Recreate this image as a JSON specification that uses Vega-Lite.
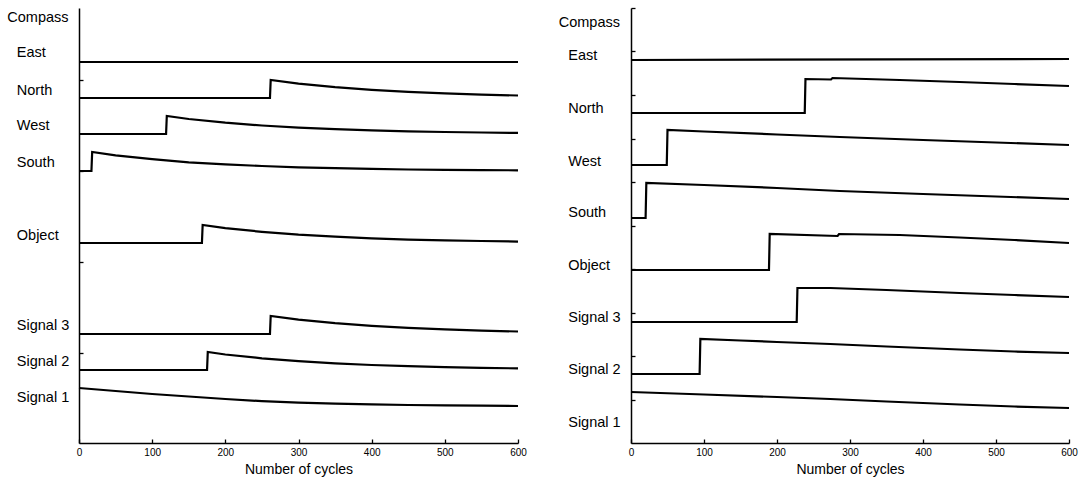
{
  "$schema": "https://vega.github.io/schema/vega-lite/v6.json",
  "background": "white",
  "padding": {"left": 7, "top": 7, "right": 5, "bottom": 4},
  "spacing": 31,
  "config": {
    "view": {"stroke": null},
    "font": "Liberation Sans",
    "axis": {
      "grid": false,
      "domainColor": "black",
      "domainWidth": 1.5,
      "tickColor": "black",
      "tickWidth": 1.3,
      "tickSize": -4,
      "labelColor": "black",
      "labelFont": "Liberation Sans",
      "labelFontSize": 10,
      "labelFlush": false,
      "labelPadding": 8,
      "titleFont": "Liberation Sans",
      "titleFontSize": 14,
      "titleFontWeight": "normal",
      "titleColor": "black",
      "titlePadding": 5
    }
  },
  "datasets": {
    "L": [
      {"s": "East", "c": 0, "v": 381}, {"s": "East", "c": 600, "v": 381},
      {"s": "North", "c": 0, "v": 345}, {"s": "North", "c": 261, "v": 345}, {"s": "North", "c": 262, "v": 363}, {"s": "North", "c": 300, "v": 359.4}, {"s": "North", "c": 350, "v": 355.8}, {"s": "North", "c": 400, "v": 353.1}, {"s": "North", "c": 450, "v": 351.1}, {"s": "North", "c": 500, "v": 349.7}, {"s": "North", "c": 550, "v": 348.4}, {"s": "North", "c": 600, "v": 347.5},
      {"s": "West", "c": 0, "v": 309}, {"s": "West", "c": 119, "v": 309}, {"s": "West", "c": 120, "v": 327}, {"s": "West", "c": 150, "v": 324}, {"s": "West", "c": 200, "v": 320.3}, {"s": "West", "c": 250, "v": 317.5}, {"s": "West", "c": 300, "v": 315.3}, {"s": "West", "c": 350, "v": 313.9}, {"s": "West", "c": 400, "v": 312.6}, {"s": "West", "c": 450, "v": 311.7}, {"s": "West", "c": 500, "v": 311}, {"s": "West", "c": 550, "v": 310.5}, {"s": "West", "c": 600, "v": 310.1},
      {"s": "South", "c": 0, "v": 272}, {"s": "South", "c": 17, "v": 272}, {"s": "South", "c": 18, "v": 291}, {"s": "South", "c": 50, "v": 287.6}, {"s": "South", "c": 100, "v": 283.8}, {"s": "South", "c": 150, "v": 280.7}, {"s": "South", "c": 200, "v": 278.6}, {"s": "South", "c": 250, "v": 277}, {"s": "South", "c": 300, "v": 275.6}, {"s": "South", "c": 350, "v": 274.8}, {"s": "South", "c": 400, "v": 274.1}, {"s": "South", "c": 450, "v": 273.5}, {"s": "South", "c": 500, "v": 273.1}, {"s": "South", "c": 550, "v": 272.9}, {"s": "South", "c": 600, "v": 272.7},
      {"s": "Object", "c": 0, "v": 200}, {"s": "Object", "c": 168, "v": 200}, {"s": "Object", "c": 169, "v": 218}, {"s": "Object", "c": 200, "v": 214.8}, {"s": "Object", "c": 250, "v": 211.2}, {"s": "Object", "c": 300, "v": 208.3}, {"s": "Object", "c": 350, "v": 206.3}, {"s": "Object", "c": 400, "v": 204.7}, {"s": "Object", "c": 450, "v": 203.4}, {"s": "Object", "c": 500, "v": 202.7}, {"s": "Object", "c": 550, "v": 202}, {"s": "Object", "c": 600, "v": 201.4},
      {"s": "Signal 3", "c": 0, "v": 109}, {"s": "Signal 3", "c": 261, "v": 109}, {"s": "Signal 3", "c": 262, "v": 127}, {"s": "Signal 3", "c": 300, "v": 123.4}, {"s": "Signal 3", "c": 350, "v": 119.8}, {"s": "Signal 3", "c": 400, "v": 117.1}, {"s": "Signal 3", "c": 450, "v": 115.1}, {"s": "Signal 3", "c": 500, "v": 113.7}, {"s": "Signal 3", "c": 550, "v": 112.4}, {"s": "Signal 3", "c": 600, "v": 111.5},
      {"s": "Signal 2", "c": 0, "v": 73}, {"s": "Signal 2", "c": 175, "v": 73}, {"s": "Signal 2", "c": 176, "v": 91}, {"s": "Signal 2", "c": 200, "v": 88.5}, {"s": "Signal 2", "c": 250, "v": 84.7}, {"s": "Signal 2", "c": 300, "v": 81.8}, {"s": "Signal 2", "c": 350, "v": 79.7}, {"s": "Signal 2", "c": 400, "v": 78}, {"s": "Signal 2", "c": 450, "v": 76.8}, {"s": "Signal 2", "c": 500, "v": 75.9}, {"s": "Signal 2", "c": 550, "v": 75.2}, {"s": "Signal 2", "c": 600, "v": 74.6},
      {"s": "Signal 1", "c": 0, "v": 55}, {"s": "Signal 1", "c": 50, "v": 52}, {"s": "Signal 1", "c": 100, "v": 49}, {"s": "Signal 1", "c": 150, "v": 46.5}, {"s": "Signal 1", "c": 200, "v": 44}, {"s": "Signal 1", "c": 250, "v": 41.8}, {"s": "Signal 1", "c": 300, "v": 40.3}, {"s": "Signal 1", "c": 350, "v": 39.3}, {"s": "Signal 1", "c": 400, "v": 38.6}, {"s": "Signal 1", "c": 450, "v": 38}, {"s": "Signal 1", "c": 500, "v": 37.6}, {"s": "Signal 1", "c": 550, "v": 37.3}, {"s": "Signal 1", "c": 600, "v": 37}
    ],
    "R": [
      {"s": "East", "c": 0, "v": 383}, {"s": "East", "c": 600, "v": 384},
      {"s": "North", "c": 0, "v": 330}, {"s": "North", "c": 238, "v": 330}, {"s": "North", "c": 239, "v": 364}, {"s": "North", "c": 274, "v": 363.5}, {"s": "North", "c": 276, "v": 365}, {"s": "North", "c": 368, "v": 363}, {"s": "North", "c": 450, "v": 361}, {"s": "North", "c": 525, "v": 359}, {"s": "North", "c": 600, "v": 357},
      {"s": "West", "c": 0, "v": 278}, {"s": "West", "c": 49, "v": 278}, {"s": "West", "c": 50, "v": 313}, {"s": "West", "c": 100, "v": 311.5}, {"s": "West", "c": 200, "v": 308.5}, {"s": "West", "c": 286, "v": 306}, {"s": "West", "c": 400, "v": 303}, {"s": "West", "c": 500, "v": 300.5}, {"s": "West", "c": 600, "v": 298},
      {"s": "South", "c": 0, "v": 225}, {"s": "South", "c": 20, "v": 225}, {"s": "South", "c": 21, "v": 260}, {"s": "South", "c": 100, "v": 258}, {"s": "South", "c": 200, "v": 255}, {"s": "South", "c": 286, "v": 252}, {"s": "South", "c": 400, "v": 249}, {"s": "South", "c": 500, "v": 246.5}, {"s": "South", "c": 600, "v": 244},
      {"s": "Object", "c": 0, "v": 173}, {"s": "Object", "c": 189, "v": 173}, {"s": "Object", "c": 190, "v": 209}, {"s": "Object", "c": 283, "v": 207}, {"s": "Object", "c": 285, "v": 209}, {"s": "Object", "c": 368, "v": 208}, {"s": "Object", "c": 450, "v": 205.5}, {"s": "Object", "c": 525, "v": 203}, {"s": "Object", "c": 600, "v": 200},
      {"s": "Signal 3", "c": 0, "v": 121}, {"s": "Signal 3", "c": 227, "v": 121}, {"s": "Signal 3", "c": 228, "v": 155}, {"s": "Signal 3", "c": 273, "v": 155}, {"s": "Signal 3", "c": 350, "v": 153}, {"s": "Signal 3", "c": 450, "v": 150}, {"s": "Signal 3", "c": 525, "v": 148}, {"s": "Signal 3", "c": 600, "v": 146},
      {"s": "Signal 2", "c": 0, "v": 69}, {"s": "Signal 2", "c": 94, "v": 69}, {"s": "Signal 2", "c": 95, "v": 104}, {"s": "Signal 2", "c": 150, "v": 102.5}, {"s": "Signal 2", "c": 200, "v": 101}, {"s": "Signal 2", "c": 273, "v": 99}, {"s": "Signal 2", "c": 350, "v": 96.5}, {"s": "Signal 2", "c": 450, "v": 93.5}, {"s": "Signal 2", "c": 525, "v": 91.5}, {"s": "Signal 2", "c": 600, "v": 90},
      {"s": "Signal 1", "c": 0, "v": 51}, {"s": "Signal 1", "c": 100, "v": 48.5}, {"s": "Signal 1", "c": 200, "v": 46}, {"s": "Signal 1", "c": 273, "v": 44}, {"s": "Signal 1", "c": 350, "v": 41.5}, {"s": "Signal 1", "c": 450, "v": 38.5}, {"s": "Signal 1", "c": 525, "v": 36.5}, {"s": "Signal 1", "c": 600, "v": 35}
    ],
    "LL": [
      {"t": "Compass", "v": 425}, {"t": "East", "v": 390}, {"t": "North", "v": 352}, {"t": "West", "v": 317}, {"t": "South", "v": 280}, {"t": "Object", "v": 207}, {"t": "Signal 3", "v": 117}, {"t": "Signal 2", "v": 81}, {"t": "Signal 1", "v": 45}
    ],
    "RL": [
      {"t": "Compass", "v": 420}, {"t": "East", "v": 387}, {"t": "North", "v": 334}, {"t": "West", "v": 281}, {"t": "South", "v": 230}, {"t": "Object", "v": 177}, {"t": "Signal 3", "v": 125}, {"t": "Signal 2", "v": 73}, {"t": "Signal 1", "v": 20}
    ]
  },
  "hconcat": [
    {
      "width": 439,
      "height": 435,
      "layer": [
        {
          "data": {"name": "L"},
          "mark": {"type": "line", "color": "black", "strokeWidth": 2.2},
          "encoding": {
            "x": {"field": "c", "type": "quantitative", "scale": {"domain": [0, 600], "nice": false}, "axis": {"values": [0, 100, 200, 300, 400, 500, 600], "title": "Number of cycles"}},
            "y": {"field": "v", "type": "quantitative", "scale": {"domain": [0, 435], "nice": false}, "axis": {"values": [90, 181, 272, 363], "labels": false, "title": null}},
            "detail": {"field": "s"}
          }
        },
        {
          "data": {"name": "LL"},
          "transform": [{"filter": "datum.t != 'Compass'"}],
          "mark": {"type": "text", "align": "left", "baseline": "middle", "fontSize": 14.5, "font": "Liberation Sans", "color": "black"},
          "encoding": {
            "x": {"datum": -85, "type": "quantitative", "scale": {"domain": [0, 600], "nice": false}, "axis": {"values": [0, 100, 200, 300, 400, 500, 600], "title": "Number of cycles"}},
            "y": {"field": "v", "type": "quantitative", "scale": {"domain": [0, 435], "nice": false}, "axis": {"values": [90, 181, 272, 363], "labels": false, "title": null}},
            "text": {"field": "t"}
          }
        },
        {
          "data": {"name": "LL"},
          "transform": [{"filter": "datum.t == 'Compass'"}],
          "mark": {"type": "text", "align": "left", "baseline": "middle", "fontSize": 14.5, "font": "Liberation Sans", "color": "black"},
          "encoding": {
            "x": {"datum": -98, "type": "quantitative", "scale": {"domain": [0, 600], "nice": false}, "axis": {"values": [0, 100, 200, 300, 400, 500, 600], "title": "Number of cycles"}},
            "y": {"field": "v", "type": "quantitative", "scale": {"domain": [0, 435], "nice": false}, "axis": {"values": [90, 181, 272, 363], "labels": false, "title": null}},
            "text": {"field": "t"}
          }
        }
      ]
    },
    {
      "width": 438,
      "height": 435,
      "layer": [
        {
          "data": {"name": "R"},
          "mark": {"type": "line", "color": "black", "strokeWidth": 2.2},
          "encoding": {
            "x": {"field": "c", "type": "quantitative", "scale": {"domain": [0, 600], "nice": false}, "axis": {"values": [0, 100, 200, 300, 400, 500, 600], "title": "Number of cycles"}},
            "y": {"field": "v", "type": "quantitative", "scale": {"domain": [0, 435], "nice": false}, "axis": {"values": [43.5, 87, 130.5, 174, 217.5, 261, 304.5, 348, 391.5, 435], "labels": false, "title": null}},
            "detail": {"field": "s"}
          }
        },
        {
          "data": {"name": "RL"},
          "transform": [{"filter": "datum.t != 'Compass'"}],
          "mark": {"type": "text", "align": "left", "baseline": "middle", "fontSize": 14.5, "font": "Liberation Sans", "color": "black"},
          "encoding": {
            "x": {"datum": -86, "type": "quantitative", "scale": {"domain": [0, 600], "nice": false}, "axis": {"values": [0, 100, 200, 300, 400, 500, 600], "title": "Number of cycles"}},
            "y": {"field": "v", "type": "quantitative", "scale": {"domain": [0, 435], "nice": false}, "axis": {"values": [43.5, 87, 130.5, 174, 217.5, 261, 304.5, 348, 391.5, 435], "labels": false, "title": null}},
            "text": {"field": "t"}
          }
        },
        {
          "data": {"name": "RL"},
          "transform": [{"filter": "datum.t == 'Compass'"}],
          "mark": {"type": "text", "align": "left", "baseline": "middle", "fontSize": 14.5, "font": "Liberation Sans", "color": "black"},
          "encoding": {
            "x": {"datum": -99, "type": "quantitative", "scale": {"domain": [0, 600], "nice": false}, "axis": {"values": [0, 100, 200, 300, 400, 500, 600], "title": "Number of cycles"}},
            "y": {"field": "v", "type": "quantitative", "scale": {"domain": [0, 435], "nice": false}, "axis": {"values": [43.5, 87, 130.5, 174, 217.5, 261, 304.5, 348, 391.5, 435], "labels": false, "title": null}},
            "text": {"field": "t"}
          }
        }
      ]
    }
  ]
}
